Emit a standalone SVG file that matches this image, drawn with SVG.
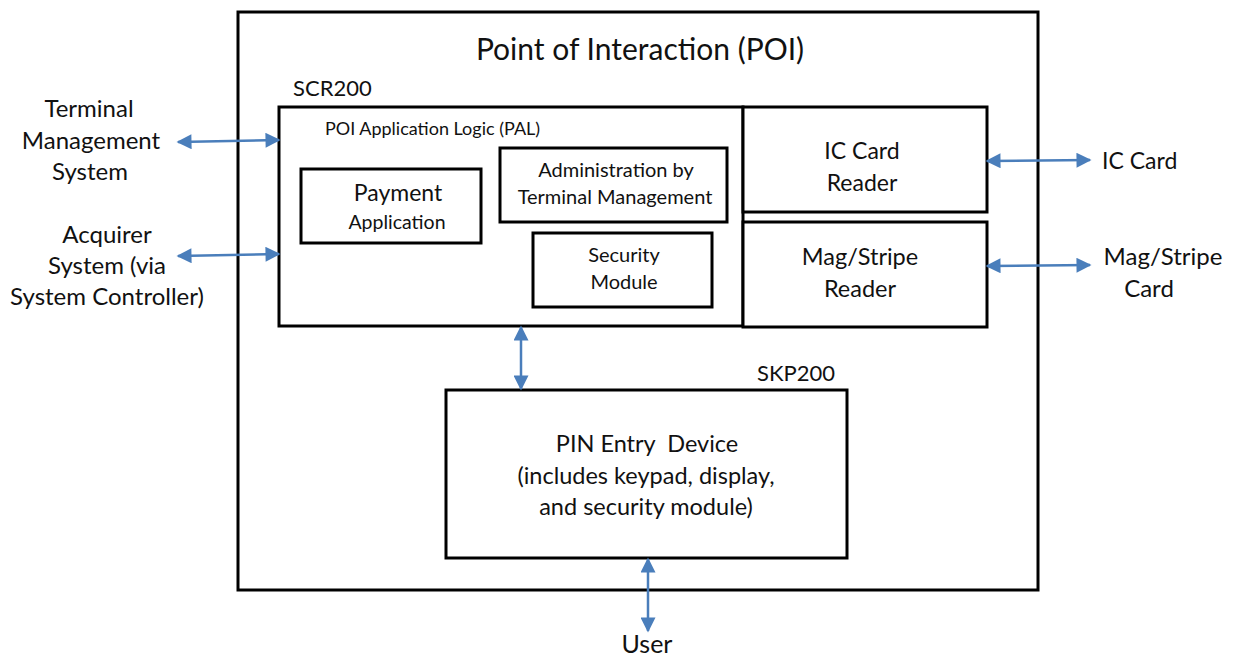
<svg xmlns="http://www.w3.org/2000/svg" width="1234" height="658" viewBox="0 0 1234 658">
  <style>
    .box { fill: #ffffff; stroke: #000000; stroke-width: 3; }
    .t { font-family: Lato, "Open Sans", "Liberation Sans", sans-serif; fill: #111111; }
    .c { text-anchor: middle; }
    .link { stroke: #4a7ebb; stroke-width: 2.5; fill: none; marker-start: url(#head); marker-end: url(#head); }
  </style>
  <defs>
    <marker id="head" viewBox="0 0 10 10" refX="9" refY="5" markerUnits="userSpaceOnUse" markerWidth="17" markerHeight="15" orient="auto-start-reverse">
      <path d="M0,0 L10,5 L0,10 z" fill="#4a7ebb"/>
    </marker>
  </defs>

  <rect width="1234" height="658" fill="#ffffff"/>

  <!-- Point of Interaction enclosure -->
  <g id="poi">
    <rect class="box" x="238" y="12" width="800" height="578"/>
    <text class="t c" x="640" y="60" font-size="30">Point of Interaction (POI)</text>
  </g>

  <!-- SCR200 with the application logic -->
  <g id="scr200">
    <text class="t" x="293" y="96" font-size="22">SCR200</text>
    <rect class="box" x="279" y="107" width="464" height="219"/>
    <text class="t" x="325" y="135" font-size="18">POI Application Logic (PAL)</text>
  </g>

  <g id="payment">
    <rect class="box" x="301" y="169" width="180" height="74"/>
    <text class="t c" x="398" y="201" font-size="23">Payment</text>
    <text class="t c" x="397" y="229" font-size="19.5">Application</text>
  </g>

  <g id="admin">
    <rect class="box" x="500" y="148" width="227" height="74"/>
    <text class="t c" x="616" y="177" font-size="20">Administration by</text>
    <text class="t c" x="615" y="204" font-size="20">Terminal Management</text>
  </g>

  <g id="security">
    <rect class="box" x="533" y="233" width="179" height="74"/>
    <text class="t c" x="624" y="262" font-size="20">Security</text>
    <text class="t c" x="624" y="289" font-size="20">Module</text>
  </g>

  <g id="ic-reader">
    <rect class="box" x="743" y="107" width="244" height="105"/>
    <text class="t c" x="862" y="159" font-size="23">IC Card</text>
    <text class="t c" x="862" y="191" font-size="23">Reader</text>
  </g>

  <g id="mag-reader">
    <rect class="box" x="743" y="222" width="244" height="105"/>
    <text class="t c" x="860" y="265" font-size="23.5">Mag/Stripe</text>
    <text class="t c" x="860" y="297" font-size="23.5">Reader</text>
  </g>

  <g id="skp200">
    <text class="t" x="757" y="381" font-size="22">SKP200</text>
    <rect class="box" x="446" y="390" width="401" height="168"/>
    <text class="t c" x="647" y="452" font-size="23.5" xml:space="preserve">PIN Entry  Device</text>
    <text class="t c" x="646" y="484" font-size="23.5">(includes keypad, display,</text>
    <text class="t c" x="646" y="515" font-size="23.5">and security module)</text>
  </g>

  <!-- External parties -->
  <g id="tms">
    <text class="t c" x="89" y="117" font-size="24">Terminal</text>
    <text class="t c" x="91" y="149" font-size="24">Management</text>
    <text class="t c" x="90" y="180" font-size="24">System</text>
  </g>
  <g id="acquirer">
    <text class="t c" x="107" y="243" font-size="24">Acquirer</text>
    <text class="t c" x="107" y="274" font-size="24">System (via</text>
    <text class="t c" x="107" y="305" font-size="24">System Controller)</text>
  </g>
  <g id="ic-card">
    <text class="t" x="1102" y="169" font-size="23">IC Card</text>
  </g>
  <g id="mag-card">
    <text class="t c" x="1163" y="265" font-size="24">Mag/Stripe</text>
    <text class="t c" x="1149" y="297" font-size="24">Card</text>
  </g>
  <g id="user">
    <text class="t c" x="647" y="653" font-size="25">User</text>
  </g>

  <!-- Connectors -->
  <g id="connectors">
    <line class="link" x1="178" y1="142" x2="279" y2="140"/>
    <line class="link" x1="178" y1="256" x2="279" y2="254"/>
    <line class="link" x1="987" y1="161" x2="1090" y2="160"/>
    <line class="link" x1="987" y1="266" x2="1090" y2="265"/>
    <line class="link" x1="521" y1="327" x2="521" y2="389"/>
    <line class="link" x1="648" y1="559" x2="648" y2="631"/>
  </g>
</svg>
